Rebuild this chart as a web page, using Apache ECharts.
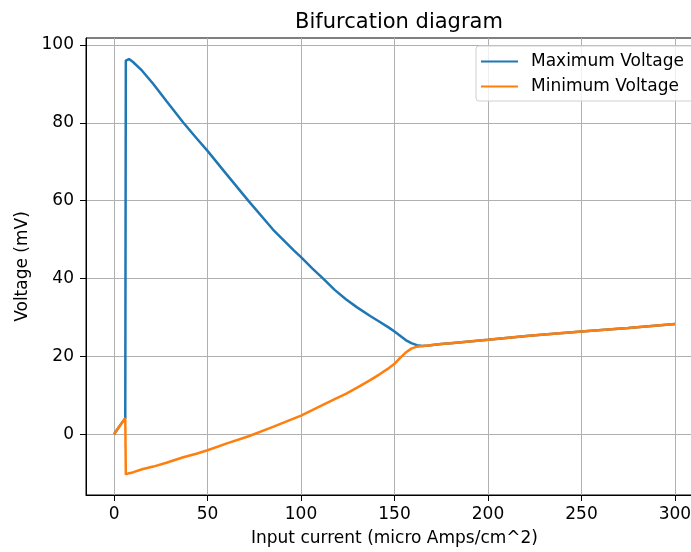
<!DOCTYPE html>
<html>
<head>
<meta charset="utf-8">
<script src="https://cdn.jsdelivr.net/npm/echarts@6/dist/echarts.min.js"></script>
<style>
html,body{margin:0;padding:0;background:#fff;overflow:hidden;}
#chart{width:720px;height:552px;}
</style>
</head>
<body>
<div id="chart"></div>
<script>
const current = [0, 2, 4, 6, 6.3, 7, 8, 10, 15, 21, 28, 37, 44, 50, 60, 72, 85, 96, 100, 106, 112, 118, 124, 130, 137, 142, 147, 150, 153, 156, 159, 162, 165, 168, 175, 180, 200, 222, 250, 275, 300];
const maxVoltage = [0, 1.4, 2.8, 4.1, 96.0, 96.3, 96.4, 95.7, 93.4, 90.0, 85.6, 80.1, 76.1, 72.8, 66.9, 59.9, 52.6, 47.3, 45.5, 42.6, 39.9, 37.1, 34.7, 32.6, 30.4, 28.9, 27.4, 26.4, 25.3, 24.2, 23.4, 22.9, 22.7, 22.8, 23.2, 23.4, 24.3, 25.3, 26.4, 27.3, 28.3];
const minVoltage = [0, 1.4, 2.8, 4.1, -10.3, -10.2, -10.0, -9.8, -9.0, -8.3, -7.3, -5.9, -5.0, -4.1, -2.4, -0.5, 1.9, 4.0, 4.8, 6.2, 7.6, 9.0, 10.4, 12.0, 13.9, 15.4, 17.0, 18.1, 19.6, 21.0, 22.0, 22.5, 22.7, 22.8, 23.2, 23.4, 24.3, 25.3, 26.4, 27.3, 28.3];
const xTicks = [0, 50, 100, 150, 200, 250, 300];
const yTicks = [0, 20, 40, 60, 80, 100];

const font = 'DejaVu Sans';
const chart = echarts.init(document.getElementById('chart'), null, {renderer: 'canvas'});
chart.setOption({
  animation: false,
  backgroundColor: '#fff',
  title: {
    text: 'Bifurcation diagram',
    left: 394, top: 7, textAlign: 'center',
    textStyle: {fontFamily: font, fontSize: 21, fontWeight: 'normal', color: '#000'}
  },
  legend: {
    orient: 'vertical',
    left: 476, top: 46,
    padding: [7, 10, 6, 5],
    itemGap: 8,
    itemWidth: 37, itemHeight: 2,
    icon: 'rect',
    borderColor: '#d0d0d0', borderWidth: 1, borderRadius: 3,
    backgroundColor: 'rgba(255,255,255,0.8)',
    textStyle: {fontFamily: font, fontSize: 17, color: '#000', padding: [0, 0, 0, 8]},
    data: ['Maximum Voltage', 'Minimum Voltage']
  },
  grid: {left: 86, right: 17, top: 38, bottom: 56, show: true, borderColor: '#000', borderWidth: 1, backgroundColor: 'transparent'},
  xAxis: {
    type: 'value', min: -15, max: 315,
    name: 'Input current (micro Amps/cm^2)', nameLocation: 'middle', nameGap: 35,
    nameTextStyle: {fontFamily: font, fontSize: 17, color: '#000'},
    axisLine: {show: true, onZero: false, lineStyle: {color: '#000', width: 1}},
    axisTick: {show: true, length: 6, lineStyle: {color: '#000'}, customValues: xTicks},
    axisLabel: {fontFamily: font, fontSize: 17, color: '#000', margin: 11, customValues: xTicks},
    splitLine: {show: true, lineStyle: {color: '#b0b0b0', width: 1}}
  },
  yAxis: {
    type: 'value', min: -15.6, max: 101.8,
    name: 'Voltage (mV)', nameLocation: 'middle', nameGap: 55, nameRotate: 90,
    nameTextStyle: {fontFamily: font, fontSize: 17, color: '#000'},
    axisLine: {show: true, onZero: false, lineStyle: {color: '#000', width: 1}},
    axisTick: {show: true, length: 6, lineStyle: {color: '#000'}, customValues: yTicks},
    axisLabel: {fontFamily: font, fontSize: 17, color: '#000', margin: 12, customValues: yTicks},
    splitLine: {show: true, lineStyle: {color: '#b0b0b0', width: 1}}
  },
  series: [
    {
      name: 'Maximum Voltage', type: 'line', symbol: 'none', smooth: false,
      color: '#1f77b4', lineStyle: {width: 2.5, color: '#1f77b4'},
      data: current.map((c, i) => [c, maxVoltage[i]])
    },
    {
      name: 'Minimum Voltage', type: 'line', symbol: 'none', smooth: false,
      color: '#ff7f0e', lineStyle: {width: 2.5, color: '#ff7f0e'},
      data: current.map((c, i) => [c, minVoltage[i]])
    }
  ]
});
</script>
</body>
</html>
